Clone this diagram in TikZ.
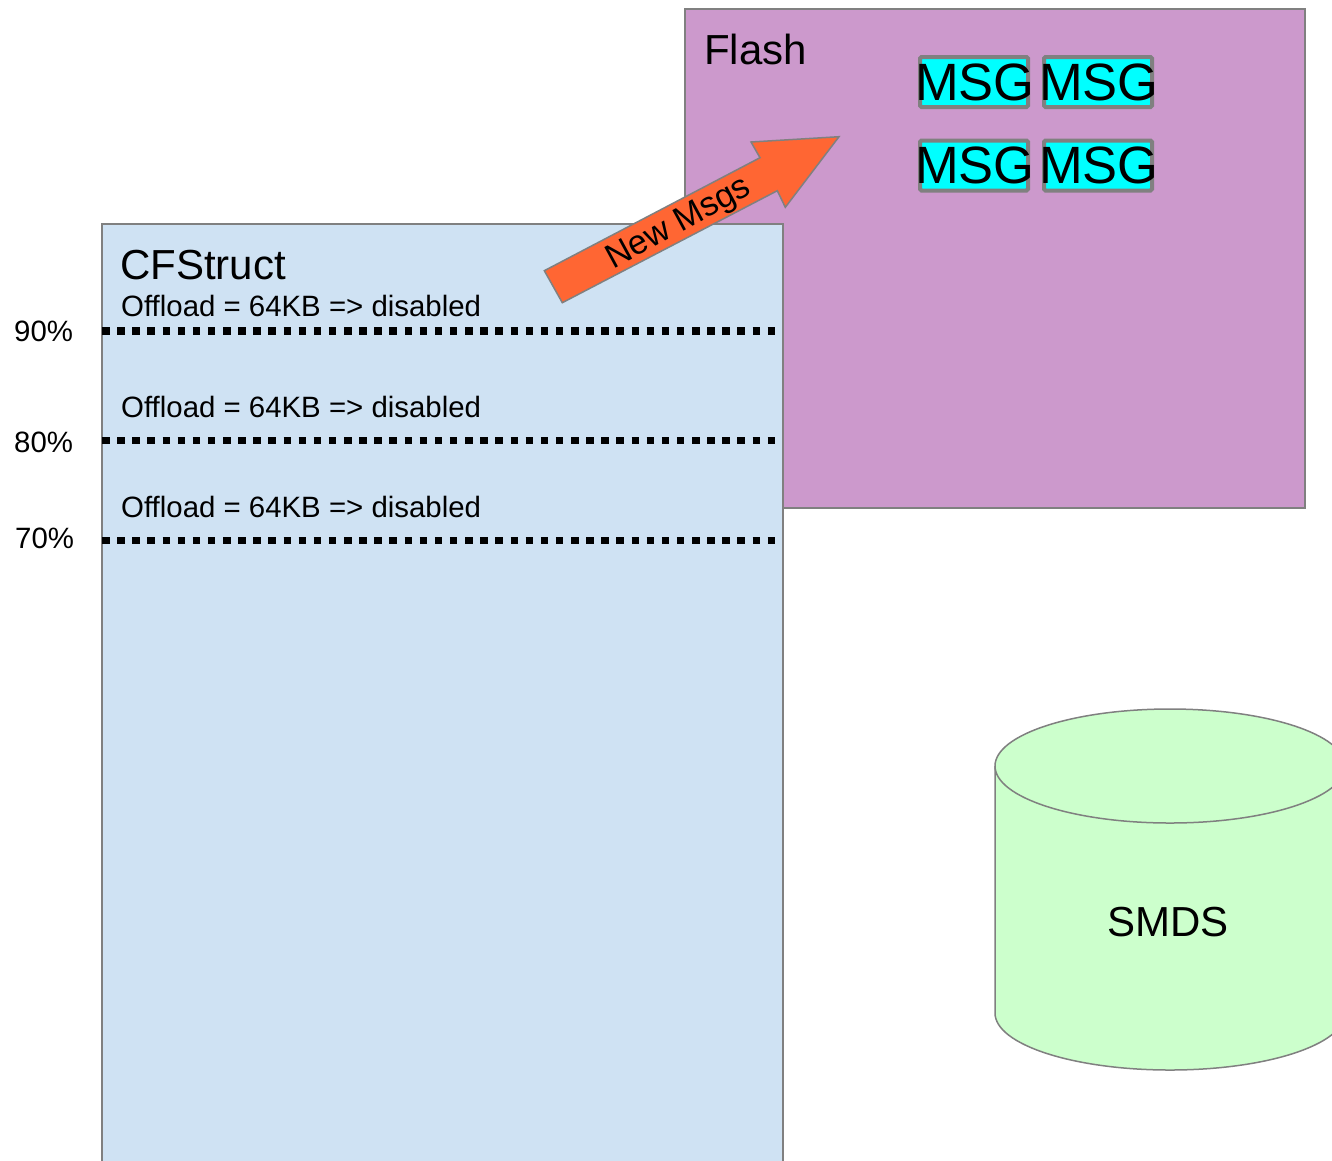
\documentclass[tikz,border=0pt]{standalone}
\usepackage{fontspec}
\setmainfont{Liberation Sans}
\definecolor{edgegray}{RGB}{128,128,128}
\definecolor{flashfill}{RGB}{204,153,204}
\definecolor{cffill}{RGB}{207,226,243}
\definecolor{arrowfill}{RGB}{255,102,51}
\definecolor{msgfill}{RGB}{0,255,255}
\definecolor{diskfill}{RGB}{204,255,204}
\newcommand{\fsz}[1]{\fontsize{#1}{#1}\selectfont}
\tikzset{
  panel/.style={draw=edgegray, line width=1.5pt},
  level/.style={line width=7.5pt, dash pattern=on 7.5pt off 7.63pt, black},
  lbl/.style={anchor=base west, inner sep=0pt, font=\fsz{29.4}},
  title/.style={anchor=base west, inner sep=0pt, font=\fsz{42}},
  msgbox/.style={draw=edgegray, line width=4pt, fill=msgfill, rounded corners=1.5pt,
    minimum width=108pt, minimum height=50pt, inner sep=0pt},
  msgtext/.style={inner sep=0pt, font=\fsz{52.5}},
}
\begin{document}
\begin{tikzpicture}[x=1pt, y=-1pt]
  \clip (0,0) rectangle (1332,1160);
  \fill[white] (0,0) rectangle (1332,1160);

  % flash area
  \fill[flashfill] (685,9) rectangle (1305,508);
  \draw[panel] (685,9) rectangle (1305,508);
  \node[title] (flash) at (704,64) {Flash};

  % queued messages
  \node[msgbox] (m1) at (974,82) {};
  \node[msgbox] (m2) at (1098,82) {};
  \node[msgbox] (m3) at (974,165.5) {};
  \node[msgbox] (m4) at (1098,165.5) {};
  \foreach \m in {m1,m2,m3,m4} \node[msgtext] at ([xshift=1pt]\m.center) {MSG};

  % coupling facility structure
  \fill[cffill] (102,224) rectangle (783,1175);
  \draw[panel] (102,1175) -- (102,224) -- (783,224) -- (783,1175);
  \node[title] (cf) at (120,279) {CFStruct};

  % thresholds
  \node[lbl] (o90) at (121,316) {Offload = 64KB => disabled};
  \node[lbl] (o80) at (121,417) {Offload = 64KB => disabled};
  \node[lbl] (o70) at (121,517) {Offload = 64KB => disabled};
  \draw[level] (102,330.8) -- (776,330.8);
  \draw[level] (102,440.5) -- (776,440.5);
  \draw[level] (102,540.5) -- (776,540.5);
  \node[lbl] (p90) at (14,341) {90\%};
  \node[lbl] (p80) at (14,452) {80\%};
  \node[lbl] (p70) at (15,548) {70\%};

  % block arrow for the new messages
  \filldraw[fill=arrowfill, draw=edgegray, line width=1.5pt, line join=miter]
    (544.3,270.7) -- (760,157.7) -- (751,142) -- (839,136.7) -- (785.3,207.3)
    -- (777.3,190.7) -- (562.3,302.7) -- cycle;
  \node[inner sep=0pt, font=\fsz{34}, rotate=28.5] (newmsgs) at (679,224) {New Msgs};

  % shared message data set
  \filldraw[fill=diskfill, draw=edgegray, line width=1.5pt]
    (995,766) -- (995,1013) arc[start angle=180, end angle=0, x radius=175, y radius=57]
    -- (1345,766) arc[start angle=0, end angle=-180, x radius=175, y radius=57] -- cycle;
  \draw[edgegray, line width=1.5pt] (995,766) arc[start angle=180, end angle=0, x radius=175, y radius=57];
  \node[inner sep=0pt, font=\fsz{42}] (smds) at (1168,922) {SMDS};
\end{tikzpicture}
\end{document}
